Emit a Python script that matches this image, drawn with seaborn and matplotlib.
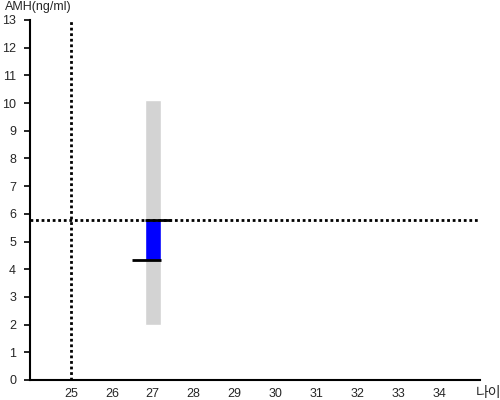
import matplotlib
matplotlib.use("Agg")
import matplotlib.pyplot as plt
import seaborn as sns

# datos
age = [27]
range_low = [2.0]
range_high = [10.1]
value_low = [4.33]
value_high = [5.78]
ref_age = 25
ref_amh = 5.78
x_ticks = [25, 26, 27, 28, 29, 30, 31, 32, 33, 34]
y_ticks = list(range(0, 14))

sns.set_style("white")
plt.rcParams['font.family'] = ['Liberation Sans', 'Noto Sans CJK KR', 'DejaVu Sans']

fig = plt.figure(figsize=(5, 4), dpi=100)
ax = fig.add_axes([0.06, 0.05, 0.90, 0.90])

# rango gris y valor azul
ax.bar(age, [h - l for l, h in zip(range_low, range_high)], bottom=range_low,
       width=0.4, color='#d3d3d3', zorder=1)
ax.bar(age, [h - l for l, h in zip(value_low, value_high)], bottom=value_low,
       width=0.4, color='#0000ff', zorder=2)

# líneas negras de los extremos
ax.hlines(value_low, [a - 0.5 for a in age], [a + 0.2 for a in age],
          color='black', lw=2, zorder=4)
ax.hlines(value_high, [a - 0.2 for a in age], [a + 0.45 for a in age],
          color='black', lw=2, zorder=4)

# referencias punteadas
ax.axvline(ref_age, color='black', ls=(0, (1, 1)), lw=2, zorder=3)
ax.axhline(ref_amh, color='black', ls=(0, (1, 1)), lw=2, zorder=3)

ax.set_xlim(24, 35)
ax.set_ylim(0, 13)
ax.set_xticks(x_ticks)
ax.set_yticks(y_ticks)
ax.tick_params(axis='y', left=True, length=4, width=1.2, color='black',
               labelsize=9, pad=6)
ax.tick_params(axis='x', bottom=False, length=0, labelsize=9, pad=6)
sns.despine(ax=ax)
for s in ['left', 'bottom']:
    ax.spines[s].set_color('black')
    ax.spines[s].set_linewidth(1.5)

fig.text(0.01, 0.982, 'AMH(ng/ml)', fontsize=9, ha='left', va='center')
fig.text(0.952, 0.018, '나이', fontsize=10, ha='left', va='center',
         family=['Noto Sans CJK KR', 'DejaVu Sans'])

fig.savefig('out.png', dpi=100)
